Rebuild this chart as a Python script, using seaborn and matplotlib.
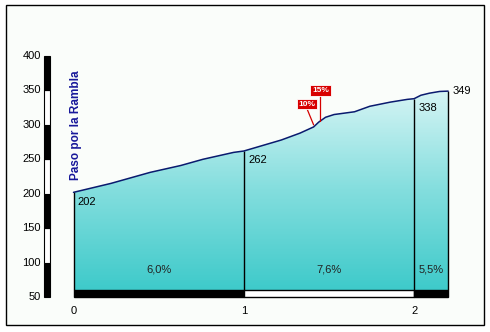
import numpy as np
import pandas as pd
import matplotlib
matplotlib.use("Agg")
import matplotlib.pyplot as plt
from matplotlib.patches import Rectangle, Polygon
from matplotlib.colors import LinearSegmentedColormap
import seaborn as sns

# ---- data ----
dist = [0, 0.22, 0.45, 0.63, 0.76, 0.94, 1.0, 1.22, 1.33, 1.41, 1.44, 1.48, 1.53,
        1.65, 1.74, 1.86, 1.96, 2.0, 2.04, 2.09, 2.15, 2.2]
elev = [202, 215, 231, 241, 250, 260, 262, 278, 288, 297, 304, 311, 315,
        319, 327, 333, 337, 338, 343, 346, 348.5, 349]
km_marks = [0, 1, 2, 2.2]
km_elev = [202, 262, 338, 349]
km_labels = ["202", "262", "338", "349"]
seg_start = [0, 1, 2]
seg_end = [1, 2, 2.2]
seg_grade = ["6,0%", "7,6%", "5,5%"]
seg_color = ["black", "white", "black"]
x_ticks = [0, 1, 2]
y_ticks = [50, 100, 150, 200, 250, 300, 350, 400]
title_text = "Paso por la Rambla"
grade_tags = ["10%", "15%"]
tag_pos = [(1.37, 330), (1.45, 350)]
tag_target = [(1.41, 300), (1.45, 306)]

df = pd.DataFrame({"km": dist, "alt": elev})

sns.set_theme(style="white")
plt.rcParams['font.family'] = ['Liberation Sans', 'DejaVu Sans']

W, H = 490, 332
fig = plt.figure(figsize=(W / 100, H / 100), dpi=100)
fig.patch.set_facecolor("white")

# background frame axes
bg = fig.add_axes([0, 0, 1, 1], zorder=-5)
bg.set_xlim(0, W)
bg.set_ylim(H, 0)
bg.axis("off")
bg.add_patch(Rectangle((6, 5), 478, 320, facecolor="#fafdfa", edgecolor="black", lw=1.0))

# axes placement in pixels
x0px, kmpx = 73.5, 170.3
ax_left_px, ax_right_px = 20, 470
ax_top_px, ax_bot_px = 20, 297
ypx = 241 / 350.0
xl = ((ax_left_px - x0px) / kmpx, (ax_right_px - x0px) / kmpx)
yl = (50, 50 + (ax_bot_px - ax_top_px) / ypx)
ax = fig.add_axes([ax_left_px / W, 1 - ax_bot_px / H,
                   (ax_right_px - ax_left_px) / W, (ax_bot_px - ax_top_px) / H], zorder=1)
ax.patch.set_alpha(0)
for s in ax.spines.values():
    s.set_visible(False)

# gradient fill clipped to profile
cmap = LinearSegmentedColormap.from_list("g", ["#3ecaca", "#84dede", "#d8f5f5"])
grad = np.linspace(0, 1, 256).reshape(-1, 1)
im = ax.imshow(grad, cmap=cmap, origin="lower", aspect="auto",
               extent=[0, dist[-1], 60, 352], zorder=1)
poly = Polygon([(0, 60)] + list(zip(dist, elev)) + [(dist[-1], 60)],
               closed=True, facecolor="none", edgecolor="none")
ax.add_patch(poly)
im.set_clip_path(poly)

# profile line
sns.lineplot(data=df, x="km", y="alt", ax=ax, color="#0a1a6e", lw=1.1, zorder=4)

ax.set_xlim(*xl)
ax.set_ylim(*yl)

# vertical km lines
ax.vlines(km_marks, 60, km_elev, colors="black", lw=1.0, zorder=3)

# km elevation labels
for i, (k, e, t) in enumerate(zip(km_marks, km_elev, km_labels)):
    if i == len(km_marks) - 1:
        ax.annotate(t, (k, e), xytext=(3, 0), textcoords="offset points",
                    ha="left", va="center", fontsize=8, color="black", zorder=5)
    else:
        ax.annotate(t, (k, e), xytext=(3, -3), textcoords="offset points",
                    ha="left", va="top", fontsize=8, color="black", zorder=5)

# bottom strip
for a, b, c in zip(seg_start, seg_end, seg_color):
    ax.add_patch(Rectangle((a, 50), b - a, 10, facecolor=c, edgecolor="black",
                           lw=1.0, zorder=5, clip_on=False))
# segment grades
for a, b, g in zip(seg_start, seg_end, seg_grade):
    ax.text((a + b) / 2, 90, g, ha="center", va="center", fontsize=8,
            color="#222222", zorder=5)

# x tick labels
for t in x_ticks:
    ax.text(t, 37, str(t), ha="center", va="top", fontsize=8, color="black")
ax.set_xticks([])
ax.set_yticks([])
ax.set_xlabel("")
ax.set_ylabel("")

# y axis bar and labels
bar_x0 = (44 - x0px) / kmpx
bar_w = 6 / kmpx
lab_x = (41 - x0px) / kmpx
for i, (a, b) in enumerate(zip(y_ticks[:-1], y_ticks[1:])):
    fc = "black" if (len(y_ticks) - 2 - i) % 2 == 0 else "white"
    ax.add_patch(Rectangle((bar_x0, a), bar_w, b - a, facecolor=fc,
                           edgecolor="black", lw=0.8, zorder=5, clip_on=False))
for v in y_ticks:
    ax.text(lab_x, v, str(v), ha="right", va="center", fontsize=8, color="black")

# title vertical
ax.text(0.015, 220, title_text, rotation=90, ha="center", va="bottom",
        fontsize=8.5, fontweight="bold", color="#18189a", zorder=5)

# red grade tags
for t, (tx, ty), (px, py) in zip(grade_tags, tag_pos, tag_target):
    ax.plot([tx, px], [ty - 6, py], color="#d40000", lw=0.9, zorder=5)
    ax.text(tx, ty, t, ha="center", va="center", fontsize=6, fontweight="bold",
            color="white", zorder=6,
            bbox=dict(boxstyle="square,pad=0.2", facecolor="#d80000",
                      edgecolor="white", lw=0.6))

if ax.get_legend():
    ax.get_legend().remove()

fig.savefig("out.png", dpi=100, facecolor="white")
